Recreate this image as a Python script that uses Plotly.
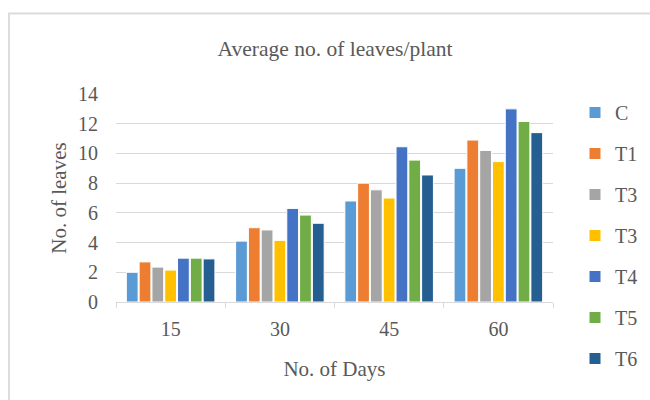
import plotly.graph_objects as go

days = ["15", "30", "45", "60"]
series_names = ["C", "T1", "T3", "T3", "T4", "T5", "T6"]
values_C = [2.0, 4.1, 6.8, 9.0]
values_T1 = [2.7, 5.0, 8.0, 10.9]
values_T3a = [2.35, 4.85, 7.55, 10.2]
values_T3b = [2.15, 4.15, 7.0, 9.45]
values_T4 = [2.95, 6.3, 10.45, 13.0]
values_T5 = [2.95, 5.85, 9.55, 12.15]
values_T6 = [2.9, 5.3, 8.55, 11.4]
all_values = [values_C, values_T1, values_T3a, values_T3b, values_T4, values_T5, values_T6]
colors = ["#5B9BD5", "#ED7D31", "#A5A5A5", "#FFC000", "#4472C4", "#70AD47", "#255E91"]

font_family = "Liberation Serif, Times New Roman, serif"
txt_color = "#595959"

fig = go.Figure()
for i, (name, vals, col) in enumerate(zip(series_names, all_values, colors)):
    fig.add_trace(go.Bar(
        x=days, y=vals, name=name, legendgroup=f"g{i}",
        marker=dict(color=col, line=dict(color="white", width=1)),
    ))

fig.update_layout(
    width=650, height=400,
    paper_bgcolor="white", plot_bgcolor="white",
    margin=dict(l=116, r=97, t=94, b=98, autoexpand=False),
    barmode="group", bargap=0.18, bargroupgap=0.08,
    font=dict(family=font_family, color=txt_color, size=20),
    title=dict(text="Average no. of leaves/plant", x=335 / 650, xanchor="center",
               xref="container", yref="container",
               y=1 - 48 / 400, yanchor="middle",
               font=dict(family=font_family, size=21.5, color=txt_color)),
    legend=dict(xref="container", yref="container",
                x=575 / 650, xanchor="left", y=1 - 93 / 400, yanchor="top",
                tracegroupgap=12, maxheight=400,
                font=dict(family=font_family, size=20, color=txt_color),
                itemwidth=30, bgcolor="rgba(0,0,0,0)"),
    xaxis=dict(
        automargin=False,
        showline=True, linecolor="#d9d9d9", linewidth=1,
        ticks="outside", tickson="boundaries", ticklen=5, tickcolor="#d9d9d9",
        tickfont=dict(family=font_family, size=20, color=txt_color),
        ticklabelstandoff=9,
        title=dict(text="No. of Days", standoff=22,
                   font=dict(family=font_family, size=21, color=txt_color)),
        showgrid=False,
    ),
    yaxis=dict(
        automargin=False,
        range=[0, 14], dtick=2, showgrid=True, gridcolor="#d9d9d9", gridwidth=1,
        zeroline=False, showline=False, ticks="",
        tickfont=dict(family=font_family, size=20, color=txt_color),
        ticklabelstandoff=17,
        title=dict(text="No. of leaves", standoff=5,
                   font=dict(family=font_family, size=21, color=txt_color)),
    ),
    shapes=[dict(type="rect", xref="paper", yref="paper",
                 x0=(9 - 116) / 437, x1=(660 - 116) / 437,
                 y0=(302 - 410) / 208.3, y1=(302 - 13) / 208.3,
                 line=dict(color="#dcdcdc", width=2), fillcolor="rgba(0,0,0,0)",
                 layer="below")],
)

fig.write_html("out.html", config={"displayModeBar": False},
               post_script="document.body.style.margin='0';")
